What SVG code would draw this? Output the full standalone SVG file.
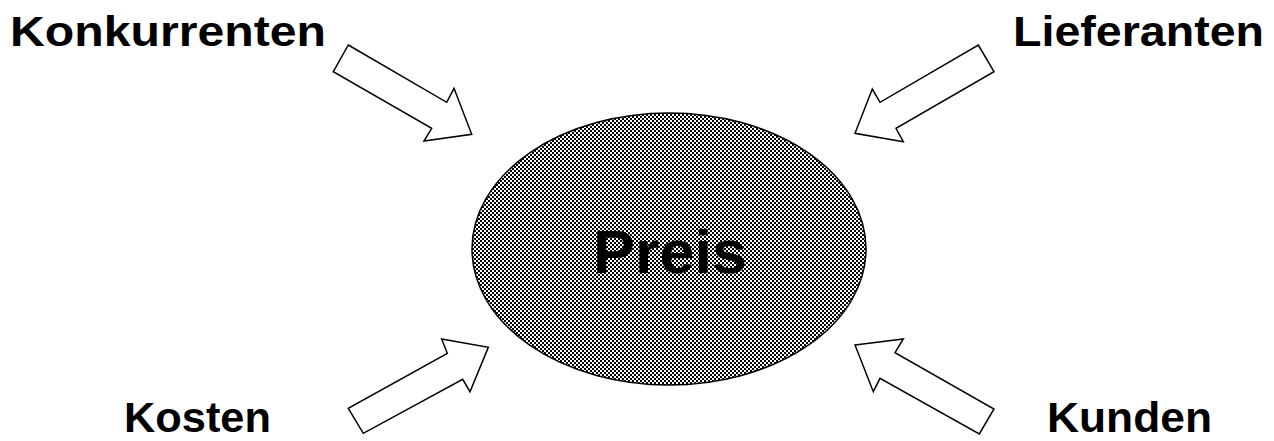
<svg xmlns="http://www.w3.org/2000/svg" width="1274" height="441" viewBox="0 0 1274 441">
<style>
.lbl{font-family:"Liberation Sans",Arial,sans-serif;font-weight:bold;fill:#000}
.arr{fill:#fff;stroke:#000;stroke-width:1.5;stroke-linejoin:miter}
</style>
<defs>
<pattern id="chk" width="4" height="4" patternUnits="userSpaceOnUse">
<rect width="4" height="4" fill="#fff"/>
<rect x="0" y="0" width="2" height="2" fill="#000"/>
<rect x="2" y="2" width="2" height="2" fill="#000"/>
</pattern>
</defs>
<rect width="1274" height="441" fill="#fff"/>
<g id="preis">
<ellipse cx="669" cy="249" rx="197" ry="136" fill="url(#chk)" stroke="#000" stroke-width="1.5"/>
<text class="lbl" x="593" y="273" font-size="62" textLength="154" lengthAdjust="spacingAndGlyphs">Preis</text>
</g>
<g id="konkurrenten">
<text class="lbl" x="10" y="46" font-size="43" textLength="316" lengthAdjust="spacingAndGlyphs">Konkurrenten</text>
</g>
<g id="lieferanten">
<text class="lbl" x="1013" y="46" font-size="43" textLength="251" lengthAdjust="spacingAndGlyphs">Lieferanten</text>
</g>
<g id="kosten">
<text class="lbl" x="124" y="432" font-size="42" textLength="147" lengthAdjust="spacingAndGlyphs">Kosten</text>
</g>
<g id="kunden">
<text class="lbl" x="1047" y="432" font-size="42" textLength="165" lengthAdjust="spacingAndGlyphs">Kunden</text>
</g>
<g id="connectors">
<polygon class="arr" points="348.3,45 446.7,102.3 454,88.3 471.7,134.3 424,141 431.7,128.3 333.3,71.7"/>
<polygon class="arr" points="978.3,45 994,71.7 896,128.3 903.3,141.7 855,133.3 872.3,89 880,102.3"/>
<polygon class="arr" points="348.3,408.3 363.3,433.3 462.7,379.3 470,391.7 488.3,347.3 441.7,339 447.3,353.3"/>
<polygon class="arr" points="855,345 903.3,339 895,352.7 994,409 979.3,434 880,378.3 873.3,391.7"/>
</g>
</svg>
